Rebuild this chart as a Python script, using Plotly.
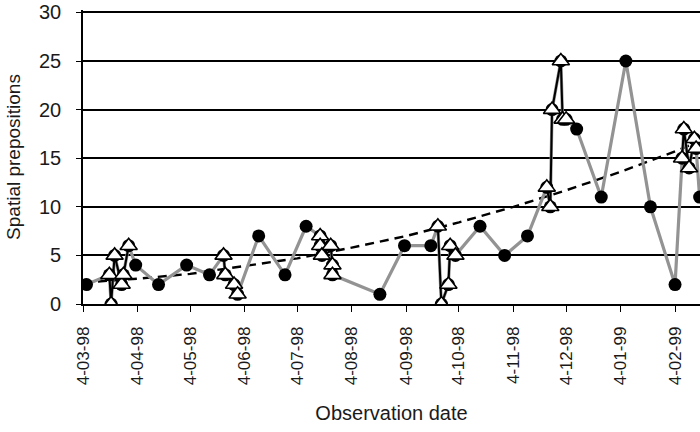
import plotly.graph_objects as go

# ---- data ----
obs_dates = [
    "1998-03-06", "1998-03-19", "1998-03-20", "1998-03-22", "1998-03-26", "1998-03-27", "1998-03-30",
    "1998-04-03", "1998-04-16", "1998-05-02", "1998-05-15",
    "1998-05-23", "1998-05-24", "1998-05-29", "1998-05-31",
    "1998-06-12", "1998-06-27", "1998-07-09",
    "1998-07-17", "1998-07-17", "1998-07-18", "1998-07-23", "1998-07-24", "1998-07-24",
    "1998-08-20", "1998-09-03", "1998-09-18",
    "1998-09-22", "1998-09-24", "1998-09-28", "1998-09-29", "1998-10-02",
    "1998-10-16", "1998-10-30", "1998-11-12",
    "1998-11-23", "1998-11-25", "1998-11-26", "1998-12-01", "1998-12-02", "1998-12-04",
    "1998-12-10", "1998-12-24", "1999-01-07", "1999-01-21", "1999-02-04",
    "1999-02-08", "1999-02-09", "1999-02-12", "1999-02-15", "1999-02-16",
    "1999-02-18",
]
obs_values = [
    2, 3, 0, 5, 2, 3, 6,
    4, 2, 4, 3,
    5, 3, 2, 1,
    7, 3, 8,
    7, 6, 5, 6, 4, 3,
    1, 6, 6,
    8, 0, 2, 6, 5,
    8, 5, 7,
    12, 10, 20, 25, 19, 19,
    18, 11, 25, 10, 2,
    15, 18, 14, 17, 16,
    11,
]
# 0 = regular observation, n > 0 = intensive sampling session n
session = [
    0, 1, 1, 1, 1, 1, 1,
    0, 0, 0, 0,
    2, 2, 2, 2,
    0, 0, 0,
    3, 3, 3, 3, 3, 3,
    0, 0, 0,
    4, 4, 4, 4, 4,
    0, 0, 0,
    5, 5, 5, 5, 5, 5,
    0, 0, 0, 0, 0,
    6, 6, 6, 6, 6,
    0,
]

trend_dates = [
    "1998-03-04", "1998-04-04", "1998-05-04", "1998-06-04", "1998-07-04", "1998-08-04",
    "1998-09-04", "1998-10-04", "1998-11-04", "1998-12-04", "1999-01-04", "1999-02-04", "1999-02-20",
]
trend_values = [2.2, 2.6, 3.1, 3.9, 4.7, 5.8, 7.0, 8.4, 10.0, 11.7, 13.6, 15.7, 16.9]

y_ticks = [0, 5, 10, 15, 20, 25, 30]
x_range = ["1998-03-04", "1999-02-18 05:00"]
y_range = [0, 30.25]

# ---- build intensive-session segments (gaps between sessions) ----
int_x, int_y = [], []
prev = None
for d, v, s in zip(obs_dates, obs_values, session):
    if s == 0:
        continue
    if prev is not None and s != prev:
        int_x.append(None)
        int_y.append(None)
    int_x.append(d)
    int_y.append(v)
    prev = s

FONT = "Liberation Sans, Arial, sans-serif"
TXT = "#1a1a1a"

fig = go.Figure()

fig.add_trace(go.Scatter(
    x=trend_dates, y=trend_values, mode="lines",
    line=dict(color="black", width=2.4, dash="9px,6px"),
    hoverinfo="skip", showlegend=False,
))
fig.add_trace(go.Scatter(
    x=obs_dates, y=obs_values, mode="lines+markers",
    line=dict(color="#939393", width=3.2),
    marker=dict(symbol="circle", size=13, color="black", line=dict(width=0)),
    showlegend=False,
))
fig.add_trace(go.Scatter(
    x=int_x, y=int_y, mode="lines",
    line=dict(color="black", width=2),
    connectgaps=False, showlegend=False,
))
fig.add_trace(go.Scatter(
    x=[d for d, s in zip(obs_dates, session) if s > 0],
    y=[v for v, s in zip(obs_values, session) if s > 0],
    mode="markers",
    marker=dict(symbol="triangle-up", size=15, color="white", line=dict(color="black", width=1.6)),
    showlegend=False,
))

fig.update_layout(
    width=700, height=432,
    margin=dict(l=83, r=0, t=10.3, b=128),
    paper_bgcolor="white", plot_bgcolor="white",
    font=dict(family=FONT, color=TXT, size=18),
    showlegend=False,
    xaxis=dict(
        type="date", automargin=False,
        range=x_range,
        tick0="1998-03-04", dtick="M1", tickformat="%-d-%m-%y",
        tickangle=-90,
        ticks="outside", ticklen=6, tickwidth=1.4, tickcolor="black",
        ticklabelstandoff=8,
        showline=True, linecolor="black", linewidth=1.7,
        showgrid=False, zeroline=False,
        tickfont=dict(family=FONT, size=17, color=TXT),
        title=dict(text="Observation date", font=dict(family=FONT, size=20, color=TXT), standoff=22),
    ),
    yaxis=dict(
        automargin=False,
        range=y_range, tickvals=y_ticks,
        ticks="outside", ticklen=5, tickwidth=1.4, tickcolor="black",
        showline=True, linecolor="black", linewidth=1.7,
        showgrid=True, gridcolor="black", gridwidth=1.6,
        zeroline=False,
        tickfont=dict(family=FONT, size=20, color=TXT),
        ticklabelstandoff=11,
        title=dict(text="Spatial prepositions", font=dict(family=FONT, size=19, color=TXT), standoff=13),
    ),
    xaxis2=dict(
        type="date", overlaying="x", anchor="y", side="bottom", range=x_range,
        tick0="1998-03-04", dtick="M1", ticks="inside", ticklen=4, tickwidth=1.4,
        tickcolor="black", showticklabels=False, showgrid=False, zeroline=False, showline=False,
    ),
    yaxis2=dict(
        overlaying="y", anchor="x", side="left", range=y_range, tickvals=y_ticks,
        ticks="inside", ticklen=4, tickwidth=1.4, tickcolor="black",
        showticklabels=False, showgrid=False, zeroline=False, showline=False,
    ),
)

# remove the browser's default 8px page margin so the figure fills the window
fig.write_html(
    "out.html",
    config={"displayModeBar": False},
    post_script="document.body.style.margin='0px';",
)
